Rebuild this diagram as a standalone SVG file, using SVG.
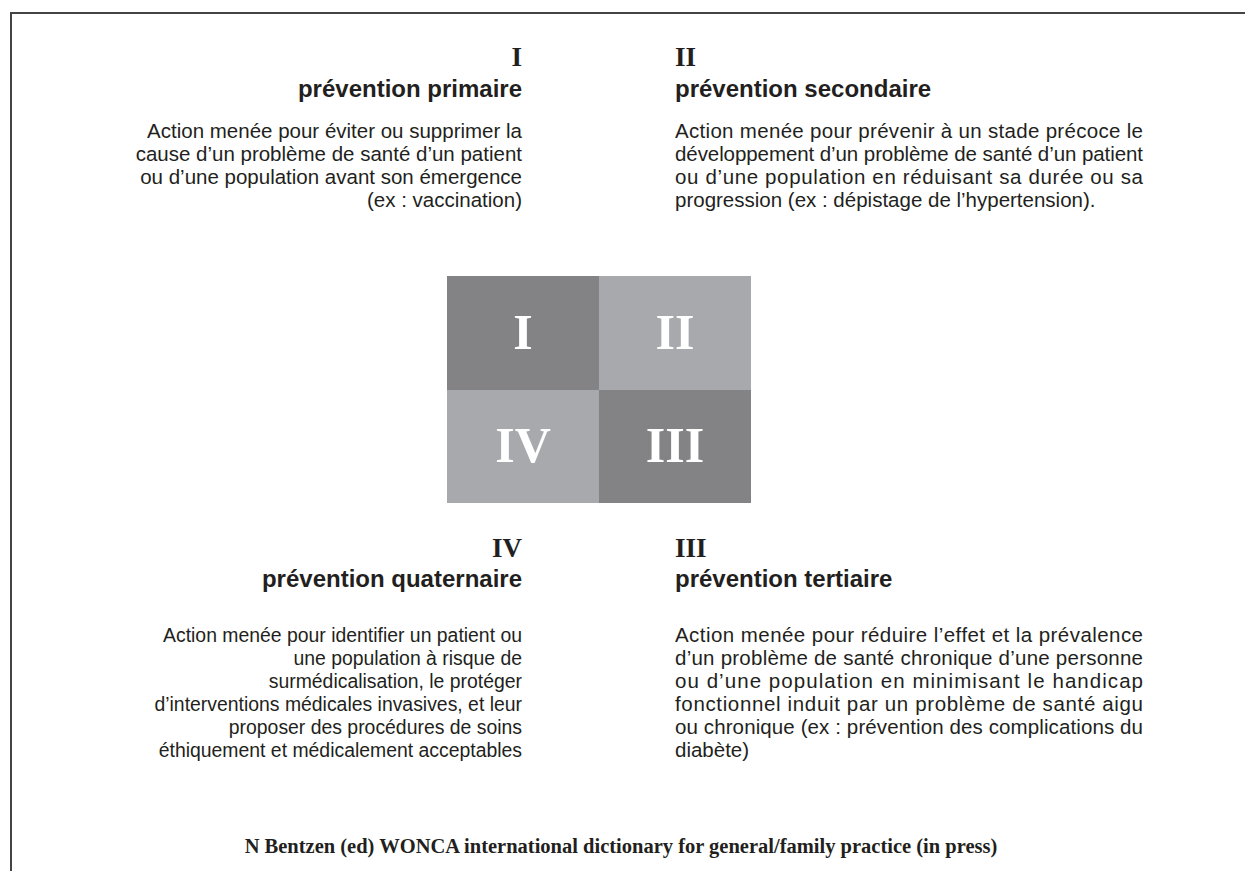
<svg xmlns="http://www.w3.org/2000/svg" width="1245" height="871" viewBox="0 0 1245 871">
<style>
.num{font-family:"Liberation Serif","Times New Roman",serif;font-weight:bold;font-size:27px;fill:#231f20}
.hd{font-family:"Liberation Sans",Arial,sans-serif;font-weight:bold;font-size:24px;fill:#231f20}
.bd{font-family:"Liberation Sans",Arial,sans-serif;font-size:20.5px;fill:#231f20}
.bq{font-size:19.4px}
.big{font-family:"Liberation Serif","Times New Roman",serif;font-weight:bold;font-size:50px;fill:#ffffff;text-anchor:middle}
.ft{font-family:"Liberation Serif","Times New Roman",serif;font-weight:bold;font-size:20.5px;fill:#231f20;text-anchor:middle}
.r{text-anchor:end}
</style>
<rect width="1245" height="871" fill="#ffffff"/>
<g id="frame" stroke="#444444" stroke-width="2" fill="none">
<line x1="10" y1="13" x2="1245" y2="13"/>
<line x1="11" y1="13" x2="11" y2="871"/>
</g>
<g id="square">
<rect x="447" y="276" width="152" height="114" fill="#838385"/>
<rect x="599" y="276" width="152" height="114" fill="#a8a9ad"/>
<rect x="447" y="390" width="152" height="113" fill="#a8a9ad"/>
<rect x="599" y="390" width="152" height="113" fill="#838385"/>
<text class="big" x="523" y="349">I</text>
<text class="big" x="675" y="349">II</text>
<text class="big" x="523" y="462">IV</text>
<text class="big" x="675" y="462">III</text>
</g>
<g id="primaire">
<text class="num r" x="522" y="66">I</text>
<text class="hd r" x="522" y="97">prévention primaire</text>
<text class="bd r" x="522" y="138">Action menée pour éviter ou supprimer la</text>
<text class="bd r" x="522" y="161">cause d’un problème de santé d’un patient</text>
<text class="bd r" x="522" y="184">ou d’une population avant son émergence</text>
<text class="bd r" x="522" y="207">(ex : vaccination)</text>
</g>
<g id="secondaire">
<text class="num" x="675" y="66">II</text>
<text class="hd" x="675" y="97">prévention secondaire</text>
<text class="bd" x="675" y="138" textLength="468" lengthAdjust="spacing">Action menée pour prévenir à un stade précoce le</text>
<text class="bd" x="675" y="161" textLength="468" lengthAdjust="spacing">développement d’un problème de santé d’un patient</text>
<text class="bd" x="675" y="184" textLength="468" lengthAdjust="spacing">ou d’une population en réduisant sa durée ou sa</text>
<text class="bd" x="675" y="207">progression (ex : dépistage de l’hypertension).</text>
</g>
<g id="quaternaire">
<text class="num r" x="522" y="557">IV</text>
<text class="hd r" x="522" y="587">prévention quaternaire</text>
<text class="bd bq r" x="522" y="642">Action menée pour identifier un patient ou</text>
<text class="bd bq r" x="522" y="665">une population à risque de</text>
<text class="bd bq r" x="522" y="688">surmédicalisation, le protéger</text>
<text class="bd bq r" x="522" y="711">d’interventions médicales invasives, et leur</text>
<text class="bd bq r" x="522" y="734">proposer des procédures de soins</text>
<text class="bd bq r" x="522" y="757">éthiquement et médicalement acceptables</text>
</g>
<g id="tertiaire">
<text class="num" x="675" y="557">III</text>
<text class="hd" x="675" y="587">prévention tertiaire</text>
<text class="bd" x="675" y="642" textLength="468" lengthAdjust="spacing">Action menée pour réduire l’effet et la prévalence</text>
<text class="bd" x="675" y="665" textLength="468" lengthAdjust="spacing">d’un problème de santé chronique d’une personne</text>
<text class="bd" x="675" y="688" textLength="468" lengthAdjust="spacing">ou d’une population en minimisant le handicap</text>
<text class="bd" x="675" y="711" textLength="468" lengthAdjust="spacing">fonctionnel induit par un problème de santé aigu</text>
<text class="bd" x="675" y="734" textLength="468" lengthAdjust="spacing">ou chronique (ex : prévention des complications du</text>
<text class="bd" x="675" y="757">diabète)</text>
</g>
<g id="source">
<text class="ft" x="621" y="853">N Bentzen (ed) WONCA international dictionary for general/family practice (in press)</text>
</g>
</svg>
